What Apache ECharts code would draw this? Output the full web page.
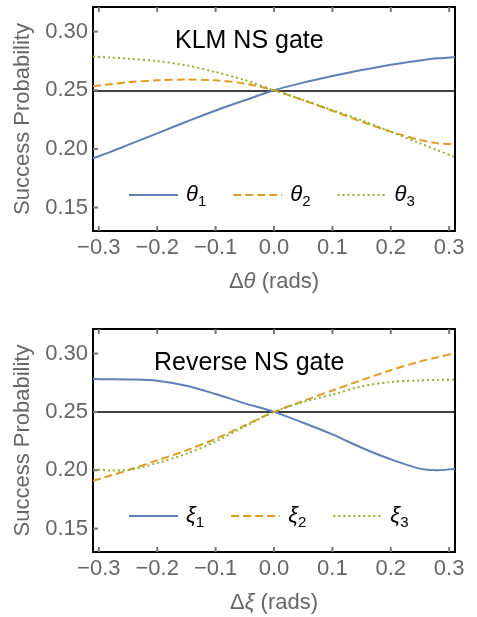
<!DOCTYPE html>
<html>
<head>
<meta charset="utf-8">
<script src="https://cdn.jsdelivr.net/npm/echarts@6/dist/echarts.min.js"></script>
<style>
  html, body { margin: 0; padding: 0; background: #fff; }
  #chart { width: 477px; height: 617px; }
</style>
</head>
<body>
<div id="chart"></div>
<script>
// angle offsets (rads), shared by every curve
const xs = [-0.31, -0.28, -0.25, -0.2, -0.15, -0.1, -0.05, 0, 0.05, 0.1, 0.15, 0.2, 0.25, 0.28, 0.31];

// KLM NS gate
const theta1 = [0.1920, 0.1975, 0.2034, 0.2133, 0.2232, 0.2328, 0.2415, 0.25, 0.2565, 0.2621, 0.2672, 0.2718, 0.2754, 0.2772, 0.2782];
const theta2 = [0.2534, 0.2552, 0.2568, 0.2585, 0.2591, 0.2585, 0.2557, 0.25, 0.2415, 0.2325, 0.2232, 0.2147, 0.2076, 0.2048, 0.2040];
const theta3 = [0.2788, 0.2779, 0.2769, 0.2749, 0.2712, 0.2655, 0.2587, 0.25, 0.2418, 0.2331, 0.2244, 0.2147, 0.2048, 0.1988, 0.1930];

// Reverse NS gate
const xi1 = [0.2781, 0.2780, 0.2778, 0.2767, 0.2724, 0.2653, 0.2573, 0.25, 0.2407, 0.2307, 0.2193, 0.2094, 0.2014, 0.2001, 0.2012];
const xi2 = [0.1910, 0.1955, 0.2000, 0.2085, 0.2170, 0.2270, 0.2385, 0.25, 0.2593, 0.2683, 0.2772, 0.2857, 0.2932, 0.2968, 0.3003];
const xi3 = [0.2009, 0.1998, 0.2003, 0.2062, 0.2142, 0.2247, 0.2375, 0.25, 0.2585, 0.2648, 0.2719, 0.2756, 0.2770, 0.2774, 0.2776];

const refLevel = 0.25;
const xTicks = [-0.3, -0.2, -0.1, 0, 0.1, 0.2, 0.3];
const yTicks = [0.15, 0.2, 0.25, 0.3];
const xRange = [-0.31, 0.31];
const yRange = [0.13, 0.321];

const FONT = 'Liberation Sans';
const GREY = '#666';
const TICK = '#777';
const colors = ['#5E81B5', '#E19C24', '#8FB131'];
const lineTypes = ['solid', [8, 4], [2, 3]];

const chart = echarts.init(document.getElementById('chart'));

const pairs = ys => xs.map((x, i) => [x, ys[i]]);

const frameLine = { show: true, onZero: false, lineStyle: { color: '#000', width: 2 } };

function axesFor(idx, sym) {
    const x = [
        {
            type: 'value', gridIndex: idx, min: xRange[0], max: xRange[1], position: 'bottom',
            axisLine: frameLine,
            splitLine: { show: false },
            axisTick: { show: false },
            axisLabel: {
                customValues: xTicks, margin: 6, color: GREY, fontSize: 22, fontFamily: FONT,
                formatter: v => v.toFixed(1).replace('-', '\u2212')
            },
            name: `{n|\u0394}{i|${sym}}{n| (rads)}`,
            nameLocation: 'middle', nameGap: 40,
            nameTextStyle: {
                rich: {
                    n: { fontSize: 22, color: GREY, fontFamily: FONT },
                    i: { fontSize: 22, color: GREY, fontFamily: FONT, fontStyle: 'italic' }
                }
            }
        },
        {
            type: 'value', gridIndex: idx, min: xRange[0], max: xRange[1], position: 'top',
            axisLine: frameLine,
            splitLine: { show: false },
            axisTick: { show: false },
            axisLabel: { show: false }
        }
    ];
    const y = [
        {
            type: 'value', gridIndex: idx, min: yRange[0], max: yRange[1], position: 'left',
            axisLine: frameLine,
            splitLine: { show: false },
            axisTick: { show: false },
            axisLabel: {
                customValues: yTicks, margin: 5, color: GREY, fontSize: 22, fontFamily: FONT,
                formatter: v => v.toFixed(2)
            },
            name: 'Success Probability',
            nameLocation: 'middle', nameGap: 48, nameRotate: 90,
            nameTextStyle: { color: GREY, fontSize: 22, fontFamily: FONT }
        },
        {
            type: 'value', gridIndex: idx, min: yRange[0], max: yRange[1], position: 'right',
            axisLine: frameLine,
            splitLine: { show: false },
            axisTick: { show: false },
            axisLabel: { show: false }
        }
    ];
    return { x, y };
}

const axesTop = axesFor(0, '\u03b8');
const axesBot = axesFor(1, '\u03be');

function curve(name, data, k, xAxisIndex, yAxisIndex, withRef) {
    const s = {
        name, type: 'line', data: pairs(data),
        xAxisIndex, yAxisIndex,
        smooth: 0.3, symbol: 'none',
        color: colors[k],
        lineStyle: { color: colors[k], width: 2, type: lineTypes[k] },
        z: 3
    };
    if (withRef) {
        s.markLine = {
            silent: true, symbol: 'none', label: { show: false },
            lineStyle: { color: '#000', width: 1.5, type: 'solid' },
            data: [{ yAxis: refLevel }],
            z: 2
        };
    }
    return s;
}

// small inward ticks on the frame, placed through the axes' own scales
const tickLine = (x1, y1, x2, y2) => ({
    type: 'line', shape: { x1, y1, x2, y2 },
    style: { stroke: TICK, lineWidth: 2 }
});

function xTickSeries(xAxisIndex, yAxisIndex) {
    return {
        type: 'custom', coordinateSystem: 'cartesian2d', xAxisIndex, yAxisIndex,
        silent: true, clip: false, z: 10,
        data: xTicks.map(v => [v, yRange[0]]),
        renderItem: (params, api) => {
            const v = xTicks[params.dataIndex];
            const lo = api.coord([v, yRange[0]]);
            const hi = api.coord([v, yRange[1]]);
            return {
                type: 'group',
                children: [
                    tickLine(lo[0], lo[1], lo[0], lo[1] - 5),
                    tickLine(hi[0], hi[1], hi[0], hi[1] + 5)
                ]
            };
        }
    };
}

function yTickSeries(xAxisIndex, yAxisIndex) {
    return {
        type: 'custom', coordinateSystem: 'cartesian2d', xAxisIndex, yAxisIndex,
        silent: true, clip: false, z: 10,
        data: yTicks.map(v => [xRange[0], v]),
        renderItem: (params, api) => {
            const p = api.coord([xRange[0], yTicks[params.dataIndex]]);
            return tickLine(p[0], p[1], p[0] + 5, p[1]);
        }
    };
}

const legendRich = {
    i: { fontSize: 22, fontStyle: 'italic', color: '#000', fontFamily: FONT, lineHeight: 28 },
    s: { fontSize: 15, color: '#000', fontFamily: FONT, verticalAlign: 'bottom', lineHeight: 15 }
};

function legendFor(names, topPx) {
    return {
        data: names, left: 123, top: topPx,
        itemWidth: 49, itemHeight: 14, itemGap: 26,
        itemStyle: { opacity: 0 },
        formatter: n => `{i|${n[0]}}{s|${n.slice(1)}}`,
        textStyle: { rich: legendRich, padding: [0, 0, 0, 3] }
    };
}

const option = {
    animation: false,
    title: [
        { text: 'KLM NS gate', left: 170, top: 24, textStyle: { fontSize: 25, fontWeight: 'normal', color: '#000', fontFamily: FONT } },
        { text: 'Reverse NS gate', left: 149, top: 346, textStyle: { fontSize: 25, fontWeight: 'normal', color: '#000', fontFamily: FONT } }
    ],
    grid: [
        { left: 93, top: 7, width: 362, height: 224 },
        { left: 93, top: 329, width: 362, height: 223 }
    ],
    legend: [
        legendFor(['\u03b81', '\u03b82', '\u03b83'], 179),
        legendFor(['\u03be1', '\u03be2', '\u03be3'], 500)
    ],
    xAxis: [...axesTop.x, ...axesBot.x],
    yAxis: [...axesTop.y, ...axesBot.y],
    series: [
        curve('\u03b81', theta1, 0, 0, 0, true),
        curve('\u03b82', theta2, 1, 0, 0),
        curve('\u03b83', theta3, 2, 0, 0),
        curve('\u03be1', xi1, 0, 2, 2, true),
        curve('\u03be2', xi2, 1, 2, 2),
        curve('\u03be3', xi3, 2, 2, 2),
        xTickSeries(0, 0),
        yTickSeries(0, 0),
        xTickSeries(2, 2),
        yTickSeries(2, 2)
    ]
};

chart.setOption(option);
</script>
</body>
</html>
